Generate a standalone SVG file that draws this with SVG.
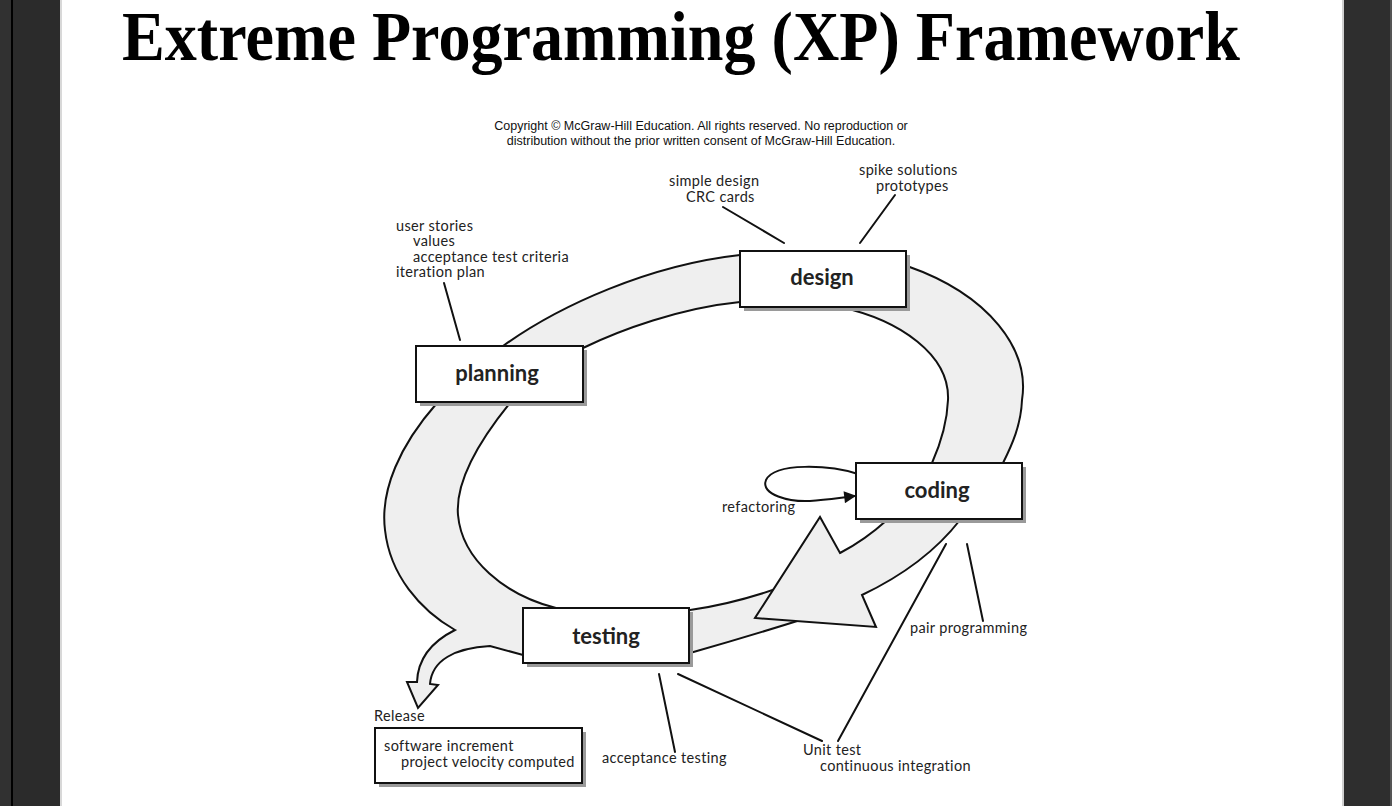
<svg xmlns="http://www.w3.org/2000/svg" width="1392" height="806" viewBox="0 0 1392 806">
<defs>
<style>
.band{fill:#efefef;stroke:#111;stroke-width:2;stroke-linejoin:miter}
.box{fill:#fff;stroke:#111;stroke-width:2}
.shadow{fill:#9a9a9a}
.lbl{font-family:Lato,"Noto Sans","Liberation Sans",sans-serif;font-size:14.5px;letter-spacing:0.35px;fill:#222}
.blbl{font-family:Lato,"Noto Sans","Liberation Sans",sans-serif;font-size:22px;font-weight:bold;fill:#222;text-anchor:middle}
.ptr{stroke:#111;stroke-width:2;fill:none;stroke-linecap:round}
.cp{font-family:"Liberation Sans",Arial,sans-serif;font-size:12.5px;fill:#111;text-anchor:middle}
</style>
<marker id="ah" viewBox="0 0 10 10" refX="9" refY="5" markerWidth="14" markerHeight="12" markerUnits="userSpaceOnUse" orient="auto">
<path d="M0,0 L10,5 L0,10 Z" fill="#111"/>
</marker>
</defs>
<rect x="0" y="0" width="1392" height="806" fill="#fff"/>
<rect x="0" y="0" width="61" height="806" fill="#2b2b2b"/>
<rect x="0" y="0" width="11" height="806" fill="#313131"/>
<rect x="11" y="0" width="2" height="806" fill="#000"/>
<rect x="60" y="0" width="2" height="806" fill="#d8d8d8"/>
<rect x="1342" y="0" width="2" height="806" fill="#d0d0d0"/>
<rect x="1344" y="0" width="46" height="806" fill="#2e2e2e"/>
<rect x="1390" y="0" width="2" height="806" fill="#555"/>

<text x="681" y="60" font-family="'Liberation Serif','Times New Roman',serif" font-size="70" font-weight="bold" text-anchor="middle" textLength="1118" lengthAdjust="spacingAndGlyphs" fill="#000">Extreme Programming (XP) Framework</text>

<text class="cp" x="701" y="130">Copyright © McGraw-Hill Education. All rights reserved. No reproduction or</text>
<text class="cp" x="701" y="145">distribution without the prior written consent of McGraw-Hill Education.</text>

<g id="connectors">
<!-- planning -> design -->
<path class="band" d="M500,352 L503,346 C560,305 650,265 740,255 L760,255 L760,302 L740,302 C680,308 620,330 583,348 L560,360 Z"/>
<!-- design -> coding -->
<path class="band" d="M890,268 L907,266 C990,295 1030,350 1022,400 C1021,425 1012,445 1003,463 L1003,480 L932,480 L932,463 C940,445 947,425 948,400 C950,355 900,320 840,307 L840,290 Z"/>
<!-- band behind arrowhead to testing -->
<path class="band" d="M675,611 L690,610 Q740,603 795,582 L810,617 Q750,636 690,653 L675,653 Z"/>
<!-- coding -> testing arrow -->
<path class="band" d="M900,510 L887,520 Q865,540 840,553 L820,517 L755,618 L876,627 L862,595 Q925,565 960,520 L960,510 Z"/>
<!-- testing -> planning + release -->
<path class="band" d="M437,395 L437,403 C400,445 380,490 385,530 C390,575 420,610 455,630 C435,640 418,655 417,682 L407,682 L418,708 L438,685 L430,684 C432,660 455,648 490,646 L523,655 L545,655 L560,612 L556,608 C505,595 462,560 458,515 C455,480 480,440 510,403 L510,395 Z"/>
<!-- refactoring loop -->
<path d="M858,474 C830,465 775,462 766,480 C760,495 790,502 810,501 C825,500 838,498 855,496" fill="none" stroke="#111" stroke-width="2" marker-end="url(#ah)"/>
<!-- pointer lines -->
<line class="ptr" x1="444" y1="283" x2="460" y2="340"/>
<line class="ptr" x1="723" y1="207" x2="784" y2="243"/>
<line class="ptr" x1="895" y1="195" x2="860" y2="243"/>
<line class="ptr" x1="967" y1="544" x2="983" y2="621"/>
<line class="ptr" x1="946" y1="544" x2="838" y2="741"/>
<line class="ptr" x1="678" y1="674" x2="822" y2="741"/>
<line class="ptr" x1="659" y1="674" x2="675" y2="752"/>
</g>

<g id="planning">
<rect class="shadow" x="420" y="350" width="167" height="56"/>
<rect class="box" x="416" y="346" width="167" height="56"/>
<text class="blbl" x="497" y="381">planning</text>
</g>
<g id="design">
<rect class="shadow" x="744" y="255" width="166" height="56"/>
<rect class="box" x="740" y="251" width="166" height="56"/>
<text class="blbl" x="822" y="285">design</text>
</g>
<g id="coding">
<rect class="shadow" x="860" y="467" width="166" height="56"/>
<rect class="box" x="856" y="463" width="166" height="56"/>
<text class="blbl" x="937" y="498">coding</text>
</g>
<g id="testing">
<rect class="shadow" x="527" y="612" width="166" height="55"/>
<rect class="box" x="523" y="608" width="166" height="55"/>
<text class="blbl" x="606" y="644">testing</text>
</g>
<g id="release">
<rect class="shadow" x="379" y="732" width="207" height="55"/>
<rect class="box" x="375" y="728" width="207" height="55"/>
<text class="lbl" x="384" y="751">software increment</text>
<text class="lbl" x="401" y="767">project velocity computed</text>
<text class="lbl" x="374" y="721">Release</text>
</g>

<g id="labels">
<text class="lbl" x="396" y="231">user stories</text>
<text class="lbl" x="413" y="246">values</text>
<text class="lbl" x="413" y="262">acceptance test criteria</text>
<text class="lbl" x="396" y="277">iteration plan</text>
<text class="lbl" x="669" y="186">simple design</text>
<text class="lbl" x="686" y="202">CRC cards</text>
<text class="lbl" x="859" y="175">spike solutions</text>
<text class="lbl" x="876" y="191">prototypes</text>
<text class="lbl" x="722" y="512">refactoring</text>
<text class="lbl" x="910" y="633">pair programming</text>
<text class="lbl" x="602" y="763">acceptance testing</text>
<text class="lbl" x="803" y="755">Unit test</text>
<text class="lbl" x="820" y="771">continuous integration</text>
</g>
</svg>
